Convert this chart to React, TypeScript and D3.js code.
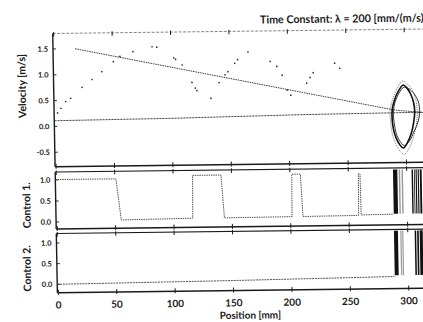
import React from 'react';
import * as d3 from 'd3';

// ---------- data ----------
const xTicks = [0, 50, 100, 150, 200, 250, 300];
const velTicks = [-0.5, 0.0, 0.5, 1.0, 1.5];
const ctrlTicks = [0.0, 0.5, 1.0];

const titleText = 'Time Constant: \u03bb = 200 [mm/(m/s)]';

// time-constant line (position mm, velocity m/s)
const lambdaPos = [18, 290, 316];
const lambdaVel = [1.5, 0.24, 0.18];
// near-zero reference line
const basePos = [-0.8, 100, 210, 316];
const baseVel = [0.11, 0.13, 0.17, 0.19];

// sampled velocity dots
const dotPos = [2.1, 5.0, 9.2, 13.5, 23.5, 32, 40.6, 50.6, 56.3, 67.5, 84, 88,
  102.4, 103.9, 109.5, 117.6, 120.4, 121.8, 133.6,
  140.8, 146, 148.5, 154.5, 157, 166,
  184.8, 190.5, 194.9, 199, 202,
  215.8, 218.7, 221.5, 240, 244.3];
const dotVel = [0.26, 0.35, 0.48, 0.54, 0.75, 0.9, 1.05, 1.24, 1.34, 1.43, 1.52, 1.51,
  1.3, 1.27, 1.16, 0.82, 0.71, 0.66, 0.51,
  0.81, 0.96, 1.02, 1.18, 1.25, 1.4,
  1.21, 1.11, 0.94, 0.65, 0.55,
  0.78, 0.89, 0.98, 1.16, 1.06];

// limit-cycle loops near the target (position, velocity)
const loopA: [number, number][] = [[298.5, 0.72], [294, 0.6], [290.5, 0.42], [288.6, 0.25], [288.4, 0.05],
  [289.5, -0.15], [292, -0.33], [295, -0.45], [297.5, -0.5], [301, -0.4], [304.5, -0.22],
  [306.8, 0.0], [307.8, 0.2], [307, 0.38], [304.5, 0.55], [301.5, 0.66]];
const loopB: [number, number][] = [[299, 0.68], [294.5, 0.56], [291.2, 0.4], [289.5, 0.2], [290, 0.0],
  [291.5, -0.2], [294.5, -0.36], [298.5, -0.45], [303, -0.36], [307, -0.18], [310.5, 0.0],
  [312, 0.2], [311, 0.4], [307.5, 0.55], [303, 0.65]];
const loopC: [number, number][] = [[298, 0.8], [293, 0.65], [289, 0.44], [286.8, 0.22], [287, 0.0],
  [288.6, -0.25], [291.8, -0.45], [295.5, -0.58], [298.5, -0.62], [302.5, -0.5], [306.5, -0.28],
  [309.2, -0.02], [310, 0.2], [309, 0.42], [306, 0.62], [302, 0.74]];

// Control 1 step trace
const c1Pos = [-0.8, 51, 55, 116.2, 116.7, 141, 143.3, 201.2, 201.6, 208.9, 210.6, 258.2, 258.6, 260, 260.4, 288];
const c1Val = [1.01, 1.01, 0.03, 0.05, 1.07, 1.07, 0.05, 0.06, 1.07, 1.07, 0.06, 0.07, 1.06, 1.06, 0.08, 0.09];
// Control 1 rapid switching bursts (start, end mm)
const c1Dark: [number, number][] = [[288.3, 292.0], [304.2, 305.4], [306.2, 306.9], [307.6, 308.6], [309.4, 310.4], [311.2, 312.8]];
const c1Light: [number, number][] = [[293.2, 294.4], [295.6, 296.8]];

// Control 2 trace
const c2Pos = [-0.8, 150, 288];
const c2Val = [0.0, 0.04, 0.09];
const c2Dark: [number, number][] = [[288.2, 291.6], [305.9, 307.2], [308.0, 309.4], [310.2, 312.8]];
const c2Light: [number, number][] = [[293.6, 294.6], [295.2, 296.2]];

// ---------- layout ----------
const W = 423;
const H = 322;
const left = 57.5;
const right = 445;
const x = d3.scaleLinear().domain([0, 300]).range([58.5, 58.5 + 350.4]);

const p1 = { top: 33.5, bottom: 166.7 };
const p2 = { top: 172, bottom: 229 };
const p3 = { top: 233.5, bottom: 292.7 };
const y1 = d3.scaleLinear().domain([-0.78, 1.8]).range([p1.bottom, p1.top]);
const y2 = d3.scaleLinear().domain([-0.167, 1.19]).range([p2.bottom, p2.top]);
const y3 = d3.scaleLinear().domain([-0.203, 1.23]).range([p3.bottom, p3.top]);

const FONT = 'Lato, "Open Sans", sans-serif';
const INK = '#1a1a1a';

function Frame({ p, y, ticks, labels, topDashed }: any) {
  return (
    <g>
      <line x1={left} x2={right} y1={p.top} y2={p.top} stroke={topDashed ? '#777' : INK}
        strokeWidth={topDashed ? 0.9 : 1.1} strokeDasharray={topDashed ? '3 1.5' : undefined} />
      <line x1={left} x2={right} y1={p.bottom} y2={p.bottom} stroke={INK} strokeWidth={1.5} />
      <line x1={left} x2={left} y1={p.top} y2={p.bottom} stroke={INK} strokeWidth={1.4} />
      {xTicks.map((t) => (
        <g key={t}>
          <line x1={x(t)} x2={x(t)} y1={p.top - 1.5} y2={p.top + 3} stroke={INK} strokeWidth={1} />
          <line x1={x(t)} x2={x(t)} y1={p.bottom - 3} y2={p.bottom + 2} stroke={INK} strokeWidth={1} />
        </g>
      ))}
      {ticks.map((t: number, i: number) => (
        <g key={t}>
          <line x1={left} x2={left + 3} y1={y(t)} y2={y(t)} stroke={INK} strokeWidth={0.9} />
          <text x={left - 5} y={y(t)} dy="0.35em" textAnchor="end" fontSize={7.5}
            fontWeight="bold" fontFamily={FONT} fill={INK}>{labels[i]}</text>
        </g>
      ))}
    </g>
  );
}

export default function App() {
  const lineV = d3.line<number>().x((_, i) => x(lambdaPos[i])).y((d) => y1(d));
  const baseV = d3.line<number>().x((_, i) => x(basePos[i])).y((d) => y1(d));
  const loopLine = d3.line<[number, number]>().x((d) => x(d[0])).y((d) => y1(d[1]))
    .curve(d3.curveCatmullRomClosed.alpha(0.5));
  const c1Line = d3.line<number>().x((_, i) => x(c1Pos[i])).y((d) => y2(d));
  const c2Line = d3.line<number>().x((_, i) => x(c2Pos[i])).y((d) => y3(d));

  const fmt = (v: number) => v.toFixed(1);

  return (
    <svg width={W} height={H} viewBox={`0 0 ${W} ${H}`}
      style={{ position: 'absolute', left: 0, top: 0, background: '#fff', display: 'block' }}>
      <rect x={0} y={0} width={W} height={H} fill="#fff" />
      <g transform="matrix(1,-0.012,0.018,1,-5.4,0.684)">
        {/* title */}
        <text x={265} y={26} fontSize={11} fontWeight="bold" fontFamily={FONT} fill={INK}
          textLength={167} lengthAdjust="spacingAndGlyphs">{titleText}</text>

        {/* Panel 1: velocity */}
        <Frame p={p1} y={y1} ticks={velTicks} labels={velTicks.map(fmt)} topDashed />
        <path d={lineV(lambdaVel) || ''} fill="none" stroke="#333" strokeWidth={0.9} strokeDasharray="1.6 0.8" />
        <path d={baseV(baseVel) || ''} fill="none" stroke="#333" strokeWidth={0.9} strokeDasharray="2.2 0.8" />
        {dotVel.map((v, i) => (
          <circle key={i} cx={x(dotPos[i])} cy={y1(v)} r={0.85} fill="#333" />
        ))}
        <path d={loopLine(loopC) || ''} fill="none" stroke="#555" strokeWidth={0.8} strokeDasharray="1 1" />
        <path d={loopLine(loopB) || ''} fill="none" stroke="#222" strokeWidth={0.9} />
        <path d={loopLine(loopA) || ''} fill="none" stroke="#111" strokeWidth={1.6} />

        {/* Panel 2: Control 1 */}
        <Frame p={p2} y={y2} ticks={ctrlTicks} labels={ctrlTicks.map(fmt)} />
        <path d={c1Line(c1Val) || ''} fill="none" stroke="#444" strokeWidth={0.9} strokeDasharray="1.5 0.8" />
        {c1Dark.map((b, i) => (
          <rect key={i} x={x(b[0])} width={x(b[1]) - x(b[0])} y={y2(1.15)} height={y2(0.1) - y2(1.15)} fill="#111" />
        ))}
        {c1Light.map((b, i) => (
          <rect key={i} x={x(b[0])} width={x(b[1]) - x(b[0])} y={y2(1.15)} height={y2(0.1) - y2(1.15)} fill="#999" />
        ))}

        {/* Panel 3: Control 2 */}
        <Frame p={p3} y={y3} ticks={ctrlTicks} labels={ctrlTicks.map(fmt)} />
        <path d={c2Line(c2Val) || ''} fill="none" stroke="#444" strokeWidth={0.9} strokeDasharray="2 0.8" />
        {c2Dark.map((b, i) => (
          <rect key={i} x={x(b[0])} width={x(b[1]) - x(b[0])} y={y3(1.2)} height={y3(0.12) - y3(1.2)} fill="#111" />
        ))}
        {c2Light.map((b, i) => (
          <rect key={i} x={x(b[0])} width={x(b[1]) - x(b[0])} y={y3(1.2)} height={y3(0.12) - y3(1.2)} fill="#999" />
        ))}

        {/* x tick labels */}
        {xTicks.map((t) => (
          <text key={t} x={x(t)} y={308.5} textAnchor="middle" fontSize={10} fontWeight="bold"
            fontFamily={FONT} fill={INK}>{t}</text>
        ))}
        <text x={250} y={321} textAnchor="middle" fontSize={10} fontWeight="bold" fontFamily={FONT} fill={INK}>Position [mm]</text>

        {/* y axis labels */}
        <text transform="translate(25.9,85.6) rotate(-90)" dy="0.35em" textAnchor="middle" fontSize={10.5}
          fontWeight="bold" fontFamily={FONT} fill={INK}>Velocity [m/s]</text>
        <text transform="translate(28.4,205) rotate(-90)" dy="0.35em" textAnchor="middle" fontSize={10.5}
          fontWeight="bold" fontFamily={FONT} fill={INK}>Control 1.</text>
        <text transform="translate(27.6,268) rotate(-90)" dy="0.35em" textAnchor="middle" fontSize={10.5}
          fontWeight="bold" fontFamily={FONT} fill={INK}>Control 2.</text>
      </g>
    </svg>
  );
}
